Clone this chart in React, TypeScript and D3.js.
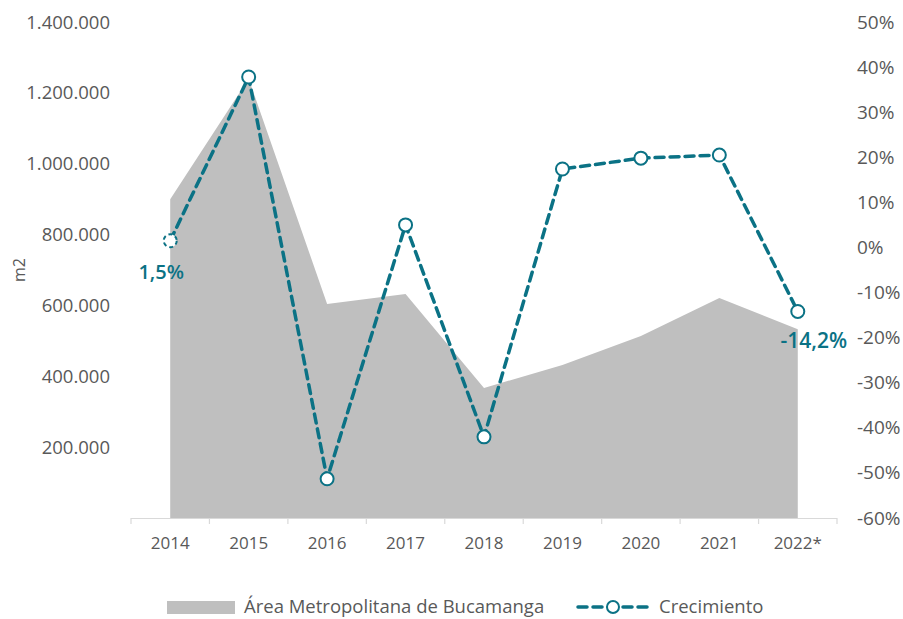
import React from "react";
import * as d3 from "d3";

const categories = ["2014", "2015", "2016", "2017", "2018", "2019", "2020", "2021", "2022*"];
const areaValues = [900000, 1240000, 604000, 632000, 367000, 432000, 514000, 621000, 533000];
const growthValues = [1.5, 37.8, -51.3, 5.0, -42.0, 17.4, 19.8, 20.5, -14.2];
const leftTicks = [200000, 400000, 600000, 800000, 1000000, 1200000, 1400000];
const rightTicks = [50, 40, 30, 20, 10, 0, -10, -20, -30, -40, -50, -60];
const seriesNames = ["Área Metropolitana de Bucamanga", "Crecimiento"];

const W = 903, H = 619;
const TEAL = "#0b7285";
const GRAY = "#bfbfbf";
const TXT = "#595959";
const FONT = "'Open Sans', 'Noto Sans', sans-serif";

export default function App() {
  const x0 = 131, x1 = 837;
  const yTop = 22, yBot = 518;
  const band = d3.scaleBand<string>().domain(categories).range([x0, x1]).padding(0);
  const cx = (c: string) => (band(c) as number) + band.bandwidth() / 2;
  const yL = d3.scaleLinear().domain([0, 1400000]).range([yBot, yTop]);
  const yR = d3.scaleLinear().domain([-60, 50]).range([yBot, yTop]);

  const fmtL = (v: number) => d3.format(",")(v).replace(/,/g, ".");
  const fmtP = (v: number) => `${v}%`;
  const fmtLbl = (v: number) => `${v.toFixed(1).replace(".", ",")}%`;

  const areaGen = d3.area<number>()
    .x((_, i) => cx(categories[i]))
    .y0(yBot)
    .y1((d) => yL(d));
  const lineGen = d3.line<number>()
    .x((_, i) => cx(categories[i]))
    .y((d) => yR(d));

  const tickXs = d3.range(categories.length + 1).map((i) => x0 + i * band.bandwidth());

  return (
    <svg width={W} height={H} style={{ position: "absolute", left: 0, top: 0, background: "#fff" }} fontFamily={FONT}>
      <path d={areaGen(areaValues) || ""} fill={GRAY} />
      {/* x axis */}
      <line x1={x0} x2={x1} y1={yBot + 0.5} y2={yBot + 0.5} stroke="#d9d9d9" strokeWidth={1.2} />
      {tickXs.map((t, i) => (
        <line key={i} x1={t} x2={t} y1={yBot} y2={yBot + 6} stroke="#d9d9d9" strokeWidth={1.2} />
      ))}
      {categories.map((c) => (
        <text key={c} x={cx(c)} y={549} textAnchor="middle" fontSize={17} fill={TXT}>{c}</text>
      ))}
      {/* left axis */}
      {leftTicks.map((v) => (
        <text key={v} x={110} y={yL(v) + 6.5} textAnchor="end" fontSize={18.5} fill={TXT}>{fmtL(v)}</text>
      ))}
      <text transform={`translate(25,${270}) rotate(-90)`} textAnchor="middle" fontSize={16} fill={TXT}>m2</text>
      {/* right axis */}
      {rightTicks.map((v) => (
        <text key={v} x={857} y={yR(v) + 6.5} textAnchor="start" fontSize={19} fill={TXT}>{fmtP(v)}</text>
      ))}
      {/* growth line */}
      <path d={lineGen(growthValues) || ""} fill="none" stroke={TEAL} strokeWidth={3.5} strokeDasharray="9 6" strokeLinecap="round" />
      {growthValues.map((v, i) => (
        <circle key={i} cx={cx(categories[i])} cy={yR(v)} r={6.5} fill="#fff" stroke={TEAL} strokeWidth={2}
          strokeDasharray={i === 0 ? "4 3" : undefined} />
      ))}
      <text x={cx(categories[0]) - 9} y={yR(growthValues[0]) + 38} textAnchor="middle" fontSize={20} fontWeight={600} fill={TEAL}>{fmtLbl(growthValues[0])}</text>
      <text x={cx(categories[8]) + 16} y={yR(growthValues[8]) + 37} textAnchor="middle" fontSize={21} fontWeight={600} fill={TEAL}>{fmtLbl(growthValues[8])}</text>
      {/* legend */}
      <rect x={167} y={601} width={68} height={13} fill={GRAY} />
      <text x={244} y={613} fontSize={18.5} fill={TXT}>{seriesNames[0]}</text>
      <line x1={578} x2={650} y1={607} y2={607} stroke={TEAL} strokeWidth={3.5} strokeDasharray="9 6" strokeLinecap="round" />
      <circle cx={613} cy={607} r={6} fill="#fff" stroke={TEAL} strokeWidth={2} />
      <text x={659} y={613} fontSize={18.5} fill={TXT}>{seriesNames[1]}</text>
    </svg>
  );
}
